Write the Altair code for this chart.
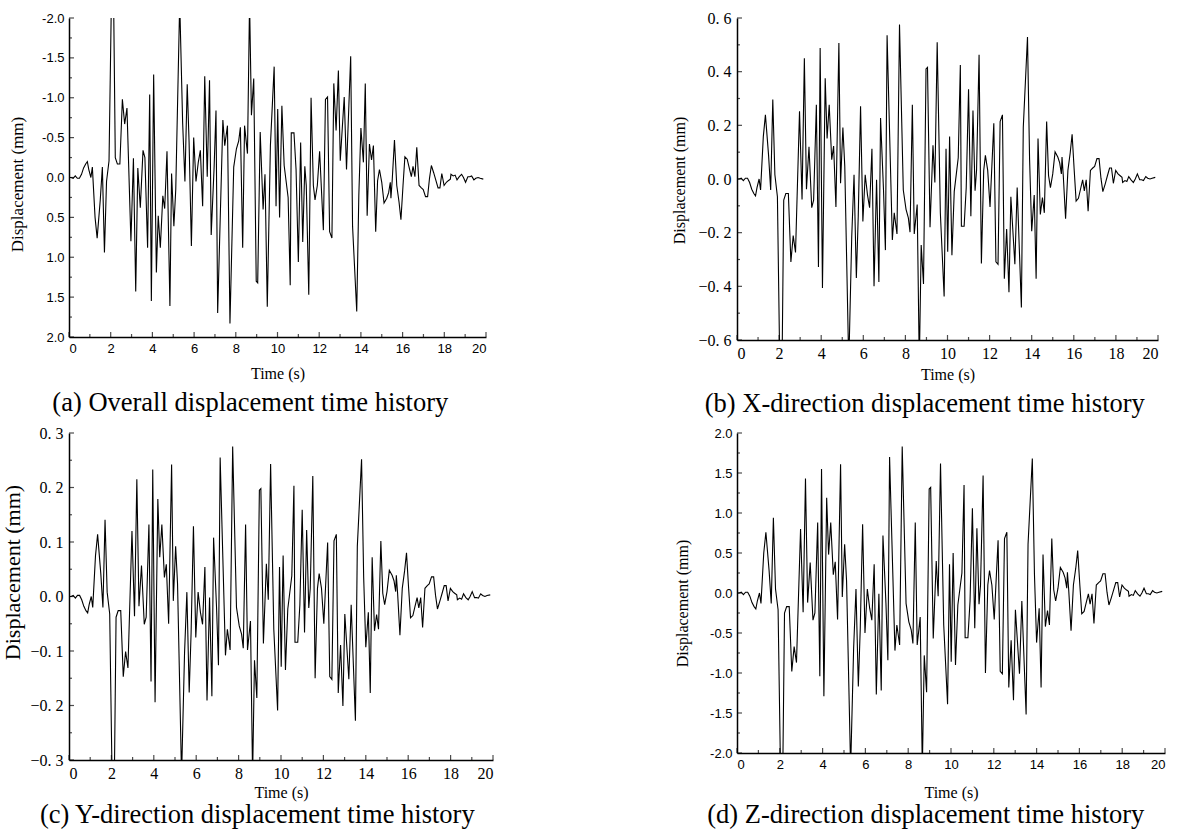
import altair as alt
import pandas as pd

# ---- data (sample times in s) ----
time_s = [
    0.0, 0.1, 0.2, 0.3, 0.4, 0.5, 0.6, 0.7, 0.8, 0.88,
    0.95, 1.05, 1.12, 1.25, 1.35, 1.5, 1.6, 1.7, 1.8, 1.92,
    2.06, 2.12, 2.22, 2.32, 2.44, 2.56, 2.67, 2.78, 2.97, 3.09,
    3.2, 3.3, 3.42, 3.55, 3.64, 3.77, 3.87, 3.95, 4.06, 4.19,
    4.28, 4.38, 4.5, 4.59, 4.7, 4.84, 4.92, 5.03, 5.12, 5.31,
    5.45, 5.56, 5.67, 5.76, 5.87, 5.98, 6.09, 6.2, 6.3, 6.41,
    6.51, 6.63, 6.74, 6.82, 6.96, 7.05, 7.13, 7.38, 7.47, 7.6,
    7.72, 7.9, 8.03, 8.14, 8.22, 8.33, 8.42, 8.56, 8.66, 8.75,
    8.86, 8.98, 9.05, 9.17, 9.31, 9.4, 9.51, 9.66, 9.84, 9.93,
    10.01, 10.1, 10.21, 10.32, 10.51, 10.61, 10.66, 10.79, 10.89, 11.0,
    11.11, 11.21, 11.31, 11.38, 11.5, 11.61, 11.72, 11.8, 11.91, 12.02,
    12.2, 12.3, 12.4, 12.5, 12.61, 12.7, 12.81, 12.92, 13.01, 13.2,
    13.31, 13.51, 13.6, 13.8, 13.9, 14.0, 14.12, 14.21, 14.3, 14.41,
    14.51, 14.6, 14.71, 14.8, 14.89, 15.0, 15.11, 15.24, 15.33, 15.41,
    15.44, 15.5, 15.61, 15.72, 15.83, 15.92, 16.02, 16.11, 16.22, 16.31,
    16.42, 16.5, 16.59, 16.68, 16.79, 16.9, 16.99, 17.1, 17.2, 17.29,
    17.38, 17.49, 17.6, 17.7, 17.79, 17.88, 17.99, 18.1, 18.19, 18.29,
    18.32, 18.43, 18.52, 18.61, 18.72, 18.83, 18.92, 19.02, 19.13, 19.22,
    19.31, 19.42, 19.51, 19.62, 19.72, 19.87,
]

# Z-direction displacement (mm); panel (a) shows the same record on a reversed axis
z_disp = [
    0.00, 0.00, 0.01, -0.02, 0.01, 0.01, -0.04, -0.12, -0.17, -0.20,
    -0.10, 0.00, -0.13, 0.50, 0.76, 0.28, -0.13, 0.94, 0.05, -0.21,
    -2.70, -2.70, -0.25, -0.17, -0.17, -0.98, -0.67, -0.87, 0.80, -0.24,
    1.43, -0.12, 0.38, -0.34, -0.25, 0.88, -1.04, 1.55, -1.29, 1.19,
    0.48, 0.88, 0.23, 0.39, -0.33, 1.61, -0.05, 0.61, 0.15, -2.20,
    -0.69, 0.05, -1.17, -0.44, 0.86, -0.50, 0.05, -0.19, -0.34, 0.36,
    -1.27, -0.01, -1.22, 0.72, -0.13, -0.84, 1.70, -0.72, -0.40, -0.65,
    1.83, -0.13, -0.36, -0.46, -0.63, 0.88, -0.65, -0.30, -2.20, -0.78,
    -1.24, 1.30, 1.32, -0.57, 0.40, -0.04, 1.62, -0.40, -1.39, 0.36,
    -0.86, 0.50, -0.90, -0.15, 0.25, 1.35, -0.56, -0.56, -0.10, 1.06,
    -0.44, 0.81, -0.14, 0.10, 1.47, -1.00, 0.10, 0.28, 0.10, -0.33,
    0.66, -0.98, -1.01, 0.68, 0.76, -1.18, -0.59, -1.34, -0.21, -1.01,
    -0.10, -1.52, 0.61, 1.68, 0.23, -0.62, -0.19, -1.18, 0.48, -0.42,
    -0.22, -0.40, 0.68, 0.04, -0.10, 0.06, 0.32, 0.26, 0.19, 0.06,
    0.26, 0.04, -0.47, 0.10, 0.31, 0.53, 0.10, -0.26, -0.23, -0.13,
    -0.01, -0.14, -0.01, -0.38, 0.10, 0.13, 0.15, 0.24, 0.24, 0.01,
    -0.15, -0.06, 0.04, 0.13, 0.13, -0.05, 0.10, 0.06, 0.04, 0.02,
    -0.04, -0.02, -0.03, 0.03, -0.01, -0.04, 0.00, 0.06, -0.01, -0.01,
    -0.02, 0.03, 0.01, 0.00, 0.01, 0.02,
]
overall_disp = z_disp

x_disp = [
    0.000, 0.000, 0.003, -0.006, 0.003, 0.003, -0.013, -0.038, -0.054, -0.063,
    -0.032, 0.000, -0.041, 0.158, 0.239, 0.088, -0.041, 0.296, 0.016, -0.066,
    -0.851, -0.851, -0.079, -0.054, -0.054, -0.309, -0.211, -0.274, 0.252, -0.076,
    0.450, -0.038, 0.120, -0.107, -0.079, 0.277, -0.328, 0.488, -0.406, 0.375,
    0.151, 0.277, 0.072, 0.123, -0.104, 0.507, -0.016, 0.192, 0.047, -0.693,
    -0.217, 0.016, -0.369, -0.139, 0.271, -0.158, 0.016, -0.060, -0.107, 0.113,
    -0.400, -0.003, -0.384, 0.227, -0.041, -0.265, 0.536, -0.227, -0.126, -0.205,
    0.576, -0.041, -0.113, -0.145, -0.198, 0.277, -0.205, -0.095, -0.693, -0.246,
    -0.391, 0.410, 0.416, -0.180, 0.126, -0.013, 0.510, -0.126, -0.438, 0.113,
    -0.271, 0.158, -0.284, -0.047, 0.079, 0.425, -0.176, -0.176, -0.032, 0.334,
    -0.139, 0.255, -0.044, 0.032, 0.463, -0.315, 0.032, 0.088, 0.032, -0.104,
    0.208, -0.309, -0.318, 0.214, 0.239, -0.372, -0.186, -0.422, -0.066, -0.318,
    -0.032, -0.479, 0.192, 0.529, 0.072, -0.195, -0.060, -0.372, 0.151, -0.132,
    -0.069, -0.126, 0.214, 0.013, -0.032, 0.019, 0.101, 0.082, 0.060, 0.019,
    0.082, 0.013, -0.148, 0.032, 0.098, 0.167, 0.032, -0.082, -0.072, -0.041,
    -0.003, -0.044, -0.003, -0.120, 0.032, 0.041, 0.047, 0.076, 0.076, 0.003,
    -0.047, -0.019, 0.013, 0.041, 0.041, -0.016, 0.032, 0.019, 0.013, 0.006,
    -0.013, -0.006, -0.009, 0.009, -0.003, -0.013, 0.000, 0.019, -0.003, -0.003,
    -0.006, 0.009, 0.003, 0.000, 0.003, 0.006,
]

y_disp = [
    0.000, 0.000, 0.002, -0.003, 0.002, 0.002, -0.006, -0.018, -0.026, -0.030,
    -0.015, 0.000, -0.020, 0.075, 0.114, 0.042, -0.020, 0.141, 0.008, -0.032,
    -0.405, -0.405, -0.038, -0.026, -0.026, -0.147, -0.101, -0.131, 0.120, -0.036,
    0.215, -0.018, 0.057, -0.051, -0.038, 0.132, -0.156, 0.233, -0.194, 0.179,
    0.072, 0.132, 0.035, 0.059, -0.050, 0.242, -0.008, 0.092, 0.023, -0.330,
    -0.104, 0.008, -0.176, -0.066, 0.129, -0.075, 0.008, -0.029, -0.051, 0.054,
    -0.191, -0.002, -0.183, 0.108, -0.020, -0.126, 0.255, -0.108, -0.060, -0.098,
    0.275, -0.020, -0.054, -0.069, -0.095, 0.132, -0.098, -0.045, -0.330, -0.117,
    -0.186, 0.195, 0.198, -0.086, 0.060, -0.006, 0.243, -0.060, -0.209, 0.054,
    -0.129, 0.075, -0.135, -0.023, 0.038, 0.203, -0.084, -0.084, -0.015, 0.159,
    -0.066, 0.122, -0.021, 0.015, 0.221, -0.150, 0.015, 0.042, 0.015, -0.050,
    0.099, -0.147, -0.152, 0.102, 0.114, -0.177, -0.089, -0.201, -0.032, -0.152,
    -0.015, -0.228, 0.092, 0.252, 0.035, -0.093, -0.029, -0.177, 0.072, -0.063,
    -0.033, -0.060, 0.102, 0.006, -0.015, 0.009, 0.048, 0.039, 0.029, 0.009,
    0.039, 0.006, -0.071, 0.015, 0.047, 0.080, 0.015, -0.039, -0.035, -0.020,
    -0.002, -0.021, -0.002, -0.057, 0.015, 0.020, 0.023, 0.036, 0.036, 0.002,
    -0.023, -0.009, 0.006, 0.020, 0.020, -0.008, 0.015, 0.009, 0.006, 0.003,
    -0.006, -0.003, -0.005, 0.005, -0.002, -0.006, 0.000, 0.009, -0.002, -0.002,
    -0.003, 0.005, 0.002, 0.000, 0.002, 0.003,
]

# ---- tick values ----
x_major = [0, 2, 4, 6, 8, 10, 12, 14, 16, 18, 20]
x_minor = [1, 3, 5, 7, 9, 11, 13, 15, 17, 19]
y2_major = [-2.0, -1.5, -1.0, -0.5, 0.0, 0.5, 1.0, 1.5, 2.0]
y2_minor = [-1.75, -1.25, -0.75, -0.25, 0.25, 0.75, 1.25, 1.75]
y06_major = [-0.6, -0.4, -0.2, 0.0, 0.2, 0.4, 0.6]
y06_minor = [-0.5, -0.3, -0.1, 0.1, 0.3, 0.5]
y03_major = [-0.3, -0.2, -0.1, 0.0, 0.1, 0.2, 0.3]
y03_minor = [-0.25, -0.15, -0.05, 0.05, 0.15, 0.25]

captions = [
    "(a) Overall displacement time history",
    "(b) X-direction displacement time history",
    "(c) Y-direction displacement time history",
    "(d) Z-direction displacement time history",
]

SERIF = "Liberation Serif"
SANS = "Liberation Sans"
LAB_SANS = "replace(format(datum.value, '.1f'), '\u2212', '-')"
LAB_SERIF = "replace(replace(format(datum.value, '.1f'), '-', '\u2212'), '.', '. ')"


def panel(values, domain, ymaj, ymin, reverse, w, h, caption, labfont, labsize,
          labexpr, labpad, ytsize, ytx, yty, xlabfont, xlabsize, xty, capoff, capdx):
    df = pd.DataFrame({"t": time_s, "v": values})
    xs = alt.Scale(domain=[0, 20], nice=False, zero=False)
    ys = alt.Scale(domain=domain, nice=False, zero=False, reverse=reverse)
    ax_x = alt.Axis(
        values=x_major, format="d", title="Time (s)", ticks=False, grid=False,
        domainColor="black", domainWidth=1.5, labelFont=xlabfont,
        labelFontSize=xlabsize, labelColor="black", labelPadding=5,
        titleFont=SERIF, titleFontSize=16, titleFontWeight="normal",
        titleColor="black", titleY=xty, titleBaseline="middle")
    ax_y = alt.Axis(
        values=ymaj, labelExpr=labexpr, title="Displacement (mm)", ticks=False,
        grid=False, domainColor="black", domainWidth=1.5, labelFont=labfont,
        labelFontSize=labsize, labelColor="black", labelPadding=labpad,
        titleFont=SERIF, titleFontSize=ytsize, titleFontWeight="normal",
        titleColor="black", titleX=ytx, titleY=yty, titleBaseline="middle")

    line = alt.Chart(df).mark_line(color="black", strokeWidth=1.1, clip=True).encode(
        x=alt.X("t:Q", scale=xs, axis=ax_x),
        y=alt.Y("v:Q", scale=ys, axis=ax_y),
    )

    def ytick(vals, size):
        return alt.Chart(pd.DataFrame({"v": vals})).mark_tick(
            color="black", size=size, thickness=1.2).encode(
            y=alt.Y("v:Q", scale=ys, axis=ax_y), x=alt.value(size / 2))

    def xtick(vals, size):
        return alt.Chart(pd.DataFrame({"t": vals})).mark_tick(
            color="black", size=size, thickness=1.2).encode(
            x=alt.X("t:Q", scale=xs, axis=ax_x), y=alt.value(h - size / 2))

    return alt.layer(
        line, ytick(ymaj, 5), ytick(ymin, 3), xtick(x_major, 5), xtick(x_minor, 3)
    ).properties(
        width=w, height=h,
        title=alt.TitleParams(caption, orient="bottom", anchor="middle", frame="bounds",
                              font=SERIF, fontSize=26.5, fontWeight="normal",
                              color="black", offset=capoff, dx=capdx),
    )


pa = panel(overall_disp, [-2, 2], y2_major, y2_minor, True, 417, 319, captions[0],
           SANS, 13, LAB_SANS, 5, 17, -52, 166, SANS, 13, 36, 9, 3)
pb = panel(x_disp, [-0.6, 0.6], y06_major, y06_minor, False, 421, 322, captions[1],
           SERIF, 16, LAB_SERIF, 6, 16, -58, 162, SERIF, 16, 34, 9, 10)
pc = panel(y_disp, [-0.3, 0.3], y03_major, y03_minor, False, 424, 327, captions[2],
           SERIF, 16, LAB_SERIF, 6, 22, -57, 139, SERIF, 16, 32, 2, 10)
pd_ = panel(z_disp, [-2, 2], y2_major, y2_minor, False, 428, 320, captions[3],
            SANS, 13, LAB_SANS, 5, 16, -55, 170, SANS, 13, 39, 2, 6)

chart = alt.concat(
    pa, pb, pc, pd_, columns=2, spacing={"row": 93, "column": 244},
    bounds="flush", align="each",
).properties(
    padding={"left": 0, "top": 10, "right": 0, "bottom": 0}, background="white"
).configure_view(stroke=None)

chart.save("out.html", embed_options={"renderer": "svg", "actions": False})
